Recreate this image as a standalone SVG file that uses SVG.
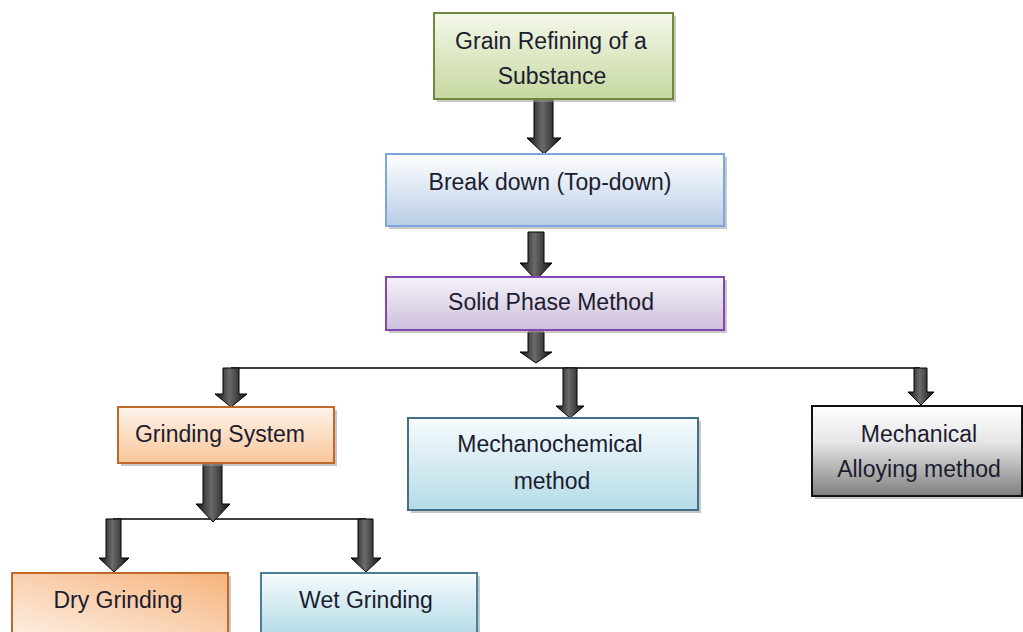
<svg xmlns="http://www.w3.org/2000/svg" width="1023" height="632" viewBox="0 0 1023 632">
<style>
.box{stroke-width:2}
.sh{fill:#9a9a9a;opacity:0.55}
.t{font-family:"Liberation Sans",Arial,sans-serif;font-size:23px;fill:#1c1c30;text-anchor:middle;dominant-baseline:central}
.ln{stroke:#000;stroke-width:1.6;fill:none}
.ar{fill:url(#ga);stroke:#000;stroke-width:1}
</style>
<defs>
<linearGradient id="gg" x1="0" y1="0" x2="0" y2="1"><stop offset="0" stop-color="#f4f8ea"/><stop offset="1" stop-color="#c6d8a0"/></linearGradient>
<linearGradient id="gb" x1="0" y1="0" x2="0" y2="1"><stop offset="0" stop-color="#ffffff"/><stop offset="1" stop-color="#b9cde6"/></linearGradient>
<linearGradient id="gp" x1="0" y1="0" x2="0" y2="1"><stop offset="0" stop-color="#f6f2f9"/><stop offset="1" stop-color="#ccbfdb"/></linearGradient>
<linearGradient id="go" x1="0" y1="0" x2="0" y2="1"><stop offset="0" stop-color="#fef3ea"/><stop offset="1" stop-color="#f9c79a"/></linearGradient>
<linearGradient id="go2" x1="1" y1="0" x2="0" y2="1"><stop offset="0" stop-color="#f6b37c"/><stop offset="1" stop-color="#fdeee2"/></linearGradient>
<linearGradient id="gc" x1="0" y1="0" x2="0" y2="1"><stop offset="0" stop-color="#f7fbfd"/><stop offset="1" stop-color="#b4dbe7"/></linearGradient>
<linearGradient id="gs" x1="0" y1="0" x2="0" y2="1"><stop offset="0" stop-color="#ffffff"/><stop offset="0.4" stop-color="#e6e6e6"/><stop offset="1" stop-color="#7f7f7f"/></linearGradient>
<linearGradient id="ga" x1="0" y1="0" x2="1" y2="0"><stop offset="0" stop-color="#111"/><stop offset="0.45" stop-color="#6a6a6a"/><stop offset="1" stop-color="#111"/></linearGradient>
</defs>

<g id="connectors">
<path class="ln" d="M231 368 H920"/>
<path class="ln" d="M113 519 H366"/>
<path class="ar" d="M534 99 h19 v39 h8 l-17 16 l-17 -16 h7 z"/>
<path class="ar" d="M528 232 h16 v31 h8 l-16 17 l-16 -17 h8 z"/>
<path class="ar" d="M528 332 h16 v20 h8 l-16 11 l-16 -11 h8 z"/>
<path class="ar" d="M223 368 h16 v26 h8 l-16 13 l-16 -13 h8 z"/>
<path class="ar" d="M563 368 h14 v38 h7 l-14 12 l-14 -12 h7 z"/>
<path class="ar" d="M914 368 h13 v24 h7 l-13 13 l-13 -13 h6 z"/>
<path class="ar" d="M203 463 h19 v41 h8 l-17 18 l-17 -18 h7 z"/>
<path class="ar" d="M106 519 h15 v39 h8 l-15 14 l-15 -14 h7 z"/>
<path class="ar" d="M358 519 h15 v39 h8 l-15 14 l-15 -14 h7 z"/>
</g>

<g id="n1"><rect class="sh" x="437" y="16" width="239" height="86"/><rect class="box" x="434" y="13" width="239" height="86" fill="url(#gg)" stroke="#6e8a3a"/><text class="t" x="551" y="41">Grain Refining of a</text><text class="t" x="552" y="76">Substance</text></g>
<g id="n2"><rect class="sh" x="389" y="157" width="338" height="72"/><rect class="box" x="386" y="154" width="338" height="72" fill="url(#gb)" stroke="#7da6dc"/><text class="t" x="550" y="182">Break down (Top-down)</text></g>
<g id="n3"><rect class="sh" x="389" y="280" width="338" height="53"/><rect class="box" x="386" y="277" width="338" height="53" fill="url(#gp)" stroke="#8446b0"/><text class="t" x="551" y="302">Solid Phase Method</text></g>
<g id="n4"><rect class="sh" x="121" y="410" width="216" height="56"/><rect class="box" x="118" y="407" width="216" height="56" fill="url(#go)" stroke="#c0692a"/><text class="t" x="220" y="434">Grinding System</text></g>
<g id="n5"><rect class="sh" x="411" y="421" width="290" height="92"/><rect class="box" x="408" y="418" width="290" height="92" fill="url(#gc)" stroke="#456f86"/><text class="t" x="550" y="444">Mechanochemical</text><text class="t" x="552" y="481">method</text></g>
<g id="n6"><rect class="sh" x="815" y="409" width="210" height="90"/><rect class="box" x="812" y="406" width="210" height="90" fill="url(#gs)" stroke="#111"/><text class="t" x="919" y="434">Mechanical</text><text class="t" x="919" y="469">Alloying method</text></g>
<g id="n7"><rect class="sh" x="15" y="576" width="216" height="60"/><rect class="box" x="12" y="573" width="216" height="62" fill="url(#go2)" stroke="#c0692a"/><text class="t" x="118" y="600">Dry Grinding</text></g>
<g id="n8"><rect class="sh" x="264" y="576" width="216" height="60"/><rect class="box" x="261" y="573" width="216" height="62" fill="url(#gc)" stroke="#4a7f95"/><text class="t" x="366" y="600">Wet Grinding</text></g>
</svg>
